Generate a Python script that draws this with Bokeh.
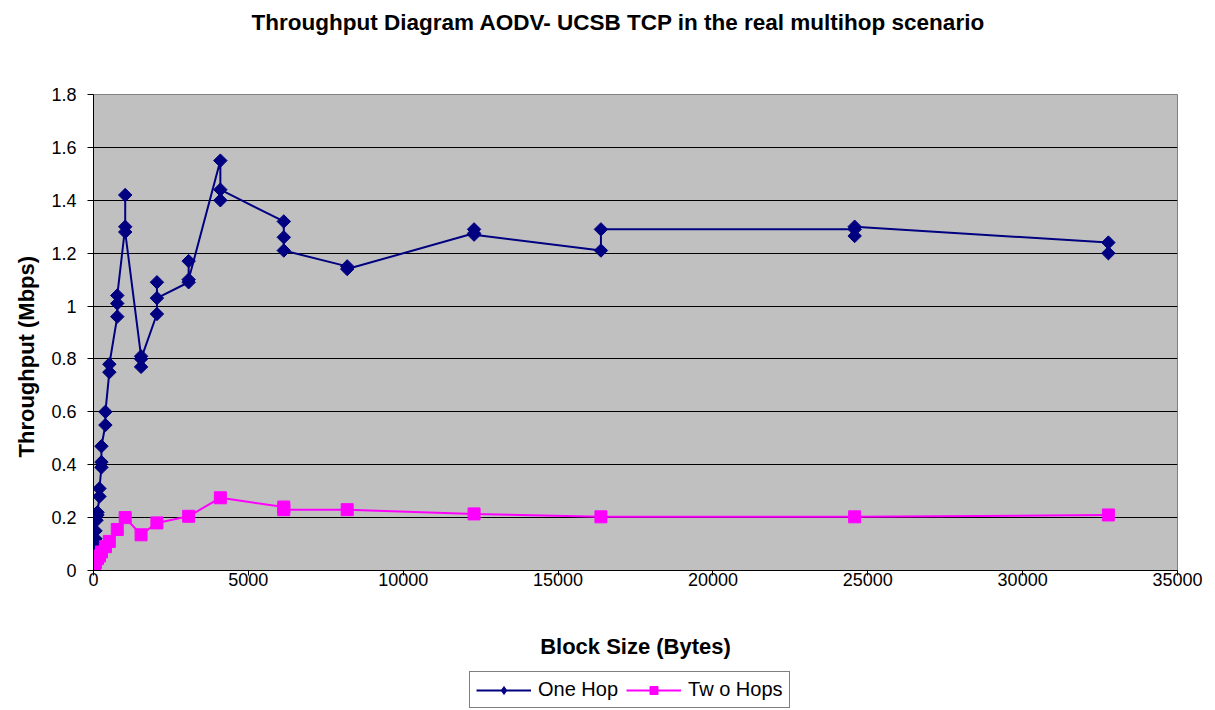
from bokeh.plotting import figure
from bokeh.layouts import column
from bokeh.models import Range1d, FixedTicker, Title, Label, Legend, LegendItem
from bokeh.embed import file_html
from bokeh.resources import INLINE
import math

# Measurements in recorded order (repeated runs share a block size)
one_hop_block = [1, 1, 2, 4, 8, 16, 24, 32, 48, 64, 64, 96, 128, 128,
                 192, 192, 256, 256, 256, 384, 384, 512, 512,
                 768, 768, 768, 1024, 1024, 1024, 1536, 1536, 1536,
                 2048, 2048, 2048, 3072, 3072, 3072, 4096, 4096, 4096,
                 6144, 6144, 6144, 8192, 8192, 12288, 12288, 12288,
                 16384, 16384, 24576, 24576, 24576, 32768, 32768]
one_hop_mbps = [0.002, 0.004, 0.008, 0.015, 0.03, 0.045, 0.06, 0.08, 0.10, 0.12, 0.15, 0.19, 0.21, 0.22,
                0.28, 0.31, 0.39, 0.41, 0.47, 0.55, 0.60, 0.75, 0.78,
                0.96, 1.01, 1.04, 1.30, 1.42, 1.28, 0.81, 0.77, 0.80,
                0.97, 1.09, 1.03, 1.09, 1.17, 1.10, 1.55, 1.40, 1.44,
                1.32, 1.26, 1.21, 1.15, 1.14, 1.275, 1.29, 1.27,
                1.21, 1.29, 1.29, 1.265, 1.30, 1.24, 1.20]

two_hops_block = [1, 2, 4, 8, 16, 32, 64, 128, 192, 256, 384, 512, 768, 1024,
                  1536, 2048, 3072, 4096, 6144, 6144, 8192, 12288, 16384, 24576, 32768]
two_hops_mbps = [0.001, 0.003, 0.005, 0.01, 0.015, 0.02, 0.03, 0.045, 0.055, 0.07, 0.09, 0.11, 0.155, 0.20,
                 0.135, 0.18, 0.205, 0.275, 0.24, 0.23, 0.23, 0.214, 0.203, 0.203, 0.21]

x_ticks = [0, 5000, 10000, 15000, 20000, 25000, 30000, 35000]
x_tick_labels = ["0", "5000", "10000", "15000", "20000", "25000", "30000", "35000"]
y_ticks = [0, 0.2, 0.4, 0.6, 0.8, 1, 1.2, 1.4, 1.6, 1.8]
y_tick_labels = ["0", "0.2", "0.4", "0.6", "0.8", "1", "1.2", "1.4", "1.6", "1.8"]

chart_title = "Throughput Diagram AODV- UCSB TCP in the real multihop scenario"
x_title = "Block Size (Bytes)"
y_title = "Throughput (Mbps)"
series_names = ["One Hop", "Tw o Hops"]

FONT = "Liberation Sans"
NAVY = "#000080"
MAGENTA = "#FF00FF"
W = 1215


def strip(height, x_range, y_range):
    """A bare, axis-less figure used for the title and legend rows."""
    f = figure(width=W, height=height, output_backend="svg", toolbar_location=None,
               x_range=x_range, y_range=y_range,
               x_axis_type=None, y_axis_type=None, min_border=0)
    f.grid.visible = False
    f.outline_line_color = None
    f.background_fill_color = "white"
    f.border_fill_color = "white"
    return f


# ---- title row ----
head = strip(40, Range1d(0, 35000), Range1d(0, 1))
head.add_layout(Label(x=16950, y=0.45, text=chart_title, text_align="center",
                      text_baseline="middle", text_font=FONT, text_font_style="bold",
                      text_font_size="22.5px", text_color="black"))

# ---- main chart ----
p = figure(width=W, height=625, output_backend="svg", toolbar_location=None,
           x_range=Range1d(0, 35000), y_range=Range1d(0, 1.8),
           min_border_left=93, min_border_right=38, min_border_top=54, min_border_bottom=95)
p.title.text = ""
p.title.standoff = 0
p.background_fill_color = "#C0C0C0"
p.border_fill_color = "white"
p.outline_line_color = "#808080"
p.outline_line_width = 1

p.xgrid.visible = False
p.ygrid.grid_line_color = "black"
p.ygrid.grid_line_width = 1
p.ygrid.ticker = FixedTicker(ticks=y_ticks)

p.xaxis.ticker = FixedTicker(ticks=x_ticks)
p.xaxis.major_label_overrides = dict(zip(x_ticks, x_tick_labels))
p.yaxis.ticker = FixedTicker(ticks=y_ticks)
p.yaxis.major_label_overrides = dict(zip(y_ticks, y_tick_labels))
for ax in (p.xaxis, p.yaxis):
    ax.axis_line_color = "black"
    ax.major_tick_line_color = "black"
    ax.minor_tick_line_color = None
    ax.major_tick_in = 0
    ax.major_label_text_font = FONT
    ax.major_label_text_font_size = "18px"
    ax.major_label_text_color = "black"

p.xaxis.major_tick_out = 5
p.xaxis.major_label_standoff = -3
p.xaxis.axis_label = x_title
p.xaxis.axis_label_standoff = 45
p.xaxis.axis_label_text_font = FONT
p.xaxis.axis_label_text_font_style = "bold"
p.xaxis.axis_label_text_font_size = "22px"
p.xaxis.axis_label_text_color = "black"

p.yaxis.major_tick_out = 6
p.yaxis.major_label_standoff = 11

# vertical axis title, starting a little above the frame's bottom
p.add_layout(Title(text=y_title, align="left", offset=113, standoff=20,
                   text_font=FONT, text_font_style="bold", text_font_size="22px",
                   text_color="black"), "left")

p.line(one_hop_block, one_hop_mbps, line_color=NAVY, line_width=2)
p.scatter(one_hop_block, one_hop_mbps, marker="square", angle=math.pi / 4,
          size=9.5, fill_color=NAVY, line_color=NAVY)
p.line(two_hops_block, two_hops_mbps, line_color=MAGENTA, line_width=2)
p.scatter(two_hops_block, two_hops_mbps, marker="square", size=12,
          fill_color=MAGENTA, line_color=MAGENTA)

# ---- legend row (its own view range keeps the key glyphs' data out of sight) ----
lg = strip(45, Range1d(-2, -1), Range1d(-2, -1))
k1 = lg.line(one_hop_block, one_hop_mbps, line_color=NAVY, line_width=2)
m1 = lg.scatter(one_hop_block, one_hop_mbps, marker="diamond", size=12,
                fill_color=NAVY, line_color=NAVY)
k2 = lg.line(two_hops_block, two_hops_mbps, line_color=MAGENTA, line_width=2)
m2 = lg.scatter(two_hops_block, two_hops_mbps, marker="square", size=9,
                fill_color=MAGENTA, line_color=MAGENTA)

legend = Legend(items=[LegendItem(label=series_names[0], renderers=[k1, m1]),
                       LegendItem(label=series_names[1], renderers=[k2, m2])],
                orientation="horizontal", location=(376, 2))
legend.label_text_font = FONT
legend.label_text_font_size = "20px"
legend.label_text_color = "black"
legend.border_line_color = "black"
legend.border_line_width = 1
legend.background_fill_color = "white"
legend.background_fill_alpha = 1
legend.glyph_width = 55
legend.glyph_height = 20
legend.spacing = 8
legend.padding = 6
legend.margin = 0
legend.label_standoff = 7
lg.add_layout(legend, "center")

layout = column(head, p, lg, spacing=0)
open("out.html", "w").write(file_html(layout, INLINE))
